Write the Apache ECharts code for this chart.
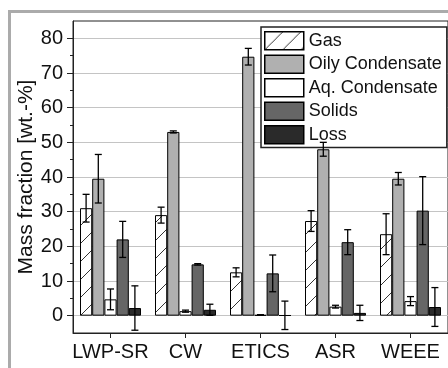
<!DOCTYPE html>
<html>
<head>
<meta charset="utf-8">
<script src="https://cdn.jsdelivr.net/npm/echarts@6/dist/echarts.min.js"></script>
<style>
  html, body { margin: 0; padding: 0; background: #fff; }
  #chart { width: 448px; height: 368px; }
</style>
</head>
<body>
<div id="chart"></div>
<script>
// data
const categories = ['LWP-SR', 'CW', 'ETICS', 'ASR', 'WEEE']
const seriesNames = ['Gas', 'Oily Condensate', 'Aq. Condensate', 'Solids', 'Loss']
const gas = [31, 29, 12.5, 27.3, 23.5]
const gasErr = [4, 2.3, 1.3, 3, 5.9]
const oily = [39.5, 53, 74.7, 48, 39.5]
const oilyErr = [7, 0.3, 2.4, 2, 1.8]
const aq = [4.7, 1.3, 0.2, 2.6, 4.2]
const aqErr = [3, 0.3, 0.1, 0.4, 1.3]
const solids = [22, 14.8, 12.2, 21.2, 30.3]
const solidsErr = [5.2, 0.2, 5.3, 3.6, 9.8]
const loss = [2.2, 1.7, 0.1, 0.8, 2.5]
const lossErr = [6.4, 1.6, 4.1, 2.2, 5.6]
const yTicks = [0, 10, 20, 30, 40, 50, 60, 70, 80]
const yMinorTicks = [5, 15, 25, 35, 45, 55, 65, 75]

const FONT = 'Liberation Sans, Arial, sans-serif'
const BAR_W = 12.2

// hatch for the gas bars
function makeHatch() {
	const c = document.createElement('canvas')
	c.width = 18
	c.height = 18
	const ctx = c.getContext('2d')
	ctx.fillStyle = '#fff'
	ctx.fillRect(0, 0, 18, 18)
	ctx.strokeStyle = '#333'
	ctx.lineWidth = 1
	ctx.beginPath()
	ctx.moveTo(-2, 20); ctx.lineTo(20, -2)
	ctx.stroke()
	return c
}

const values = [gas, oily, aq, solids, loss]
const errs = [gasErr, oilyErr, aqErr, solidsErr, lossErr]
const colors = [{ image: makeHatch(), repeat: 'repeat' }, '#b0b0b0', '#ffffff', '#666666', '#2a2a2a']

// error bar data: [category, low, high, series index]
const errData = []
values.forEach((vals, s) => {
	vals.forEach((v, i) => {
		errData.push([i, v - errs[s][i], v + errs[s][i], s])
	})
})

const chart = echarts.init(document.getElementById('chart'))

const barSeries = seriesNames.map((name, s) => ({
	name: name,
	type: 'bar',
	barWidth: BAR_W,
	barGap: '0%',
	data: values[s],
	itemStyle: {
		color: colors[s],
		borderColor: '#000',
		borderWidth: 1,
	},
	animation: false,
}))

const option = {
	animation: false,
	textStyle: { fontFamily: FONT },
	graphic: [
		{
			type: 'rect',
			shape: { x: 9.5, y: 11.5, width: 500, height: 500 },
			style: { fill: 'none', stroke: '#ababab', lineWidth: 3 },
			z: 100,
		},
	],
	grid: {
		left: 73,
		top: 21,
		width: 375,
		height: 312,
		show: true,
		borderColor: '#222',
		borderWidth: 1,
	},
	legend: {
		orient: 'vertical',
		left: 261,
		top: 27,
		padding: [4, 5, 3, 3],
		itemWidth: 39,
		itemHeight: 18,
		itemGap: 4,
		backgroundColor: '#fff',
		borderColor: '#222',
		borderWidth: 1.5,
		borderRadius: 0,
		itemStyle: { borderColor: '#000', borderWidth: 1.5 },
		textStyle: { fontSize: 18, color: '#111', fontFamily: FONT },
		data: seriesNames.map(n => ({ name: n, icon: 'rect' })),
	},
	xAxis: {
		type: 'category',
		data: categories,
		axisLine: { show: true, onZero: false, lineStyle: { color: '#222', width: 1 } },
		axisTick: { show: true, alignWithLabel: true, length: 5, lineStyle: { color: '#222' } },
		axisLabel: { interval: 0, fontSize: 20, color: '#111', margin: 9, fontFamily: FONT },
		splitLine: { show: false },
	},
	yAxis: [
		{
			type: 'value',
			min: -5,
			max: 85,
			name: 'Mass fraction [wt.-%]',
			nameLocation: 'middle',
			nameGap: 36,
			nameMoveOverlap: false,
			nameTextStyle: { fontSize: 21, color: '#111', fontFamily: FONT },
			axisLine: { show: true, lineStyle: { color: '#222', width: 1 } },
			axisTick: { show: true, length: 6, customValues: yTicks, lineStyle: { color: '#222' } },
			axisLabel: { fontSize: 20, color: '#111', margin: 10, customValues: yTicks, fontFamily: FONT },
			splitLine: { show: true, lineStyle: { color: '#c4c4c4', width: 1 } },
		},
		{
			type: 'value',
			min: -5,
			max: 85,
			position: 'left',
			axisLine: { show: false },
			axisTick: { show: true, length: 3, customValues: yMinorTicks, lineStyle: { color: '#222' } },
			axisLabel: { show: false },
			splitLine: { show: false },
		},
	],
	series: barSeries.concat([
		{
			type: 'custom',
			name: 'err',
			z: 10,
			data: errData,
			renderItem: function (params, api) {
				const cat = api.value(0)
				const s = api.value(3)
				const lo = api.coord([cat, api.value(1)])
				const hi = api.coord([cat, api.value(2)])
				const x = lo[0] + (s - 2) * BAR_W
				const cap = 3.5
				const style = { stroke: '#000', lineWidth: 1.3 }
				return {
					type: 'group',
					children: [
						{ type: 'line', shape: { x1: x, y1: lo[1], x2: x, y2: hi[1] }, style: style },
						{ type: 'line', shape: { x1: x - cap, y1: lo[1], x2: x + cap, y2: lo[1] }, style: style },
						{ type: 'line', shape: { x1: x - cap, y1: hi[1], x2: x + cap, y2: hi[1] }, style: style },
					],
				}
			},
			animation: false,
		},
	]),
}

chart.setOption(option)
</script>
</body>
</html>
